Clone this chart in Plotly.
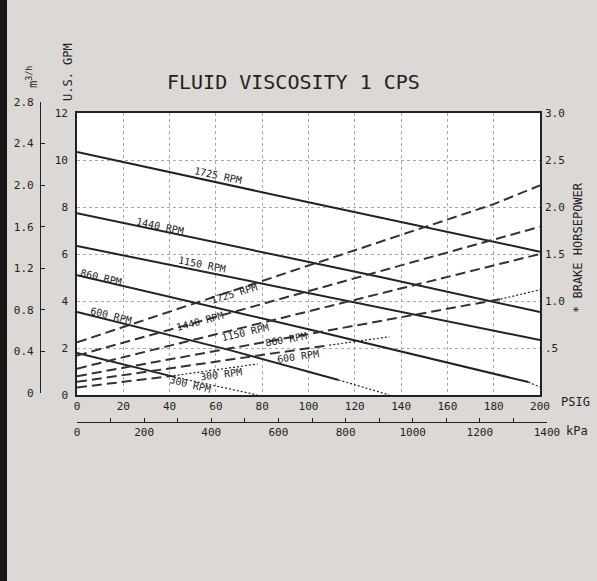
import plotly.graph_objs as go

# pressure (PSIG) / capacity (US GPM)
psig_1725 = [0, 100, 200]
gpm_1725 = [10.34, 8.2, 6.1]
psig_1440 = [0, 131, 200]
gpm_1440 = [7.74, 5.02, 3.53]
psig_1150 = [0, 131, 200]
gpm_1150 = [6.34, 3.74, 2.34]
psig_860 = [0, 100, 195]
gpm_860 = [5.1, 2.8, 0.55]
psig_860_ext = [195, 200]
gpm_860_ext = [0.55, 0.34]
psig_600 = [0, 66, 113]
gpm_600 = [3.53, 1.91, 0.64]
psig_600_ext = [113, 135]
gpm_600_ext = [0.64, 0.0]
psig_300 = [0, 42]
gpm_300 = [1.79, 0.77]
psig_300_ext = [42, 78]
gpm_300_ext = [0.77, 0.0]

# brake horsepower curves
bhp_psig_1725 = [0, 180, 200]
bhp_1725 = [0.56, 2.03, 2.23]
bhp_psig_1440 = [0, 200]
bhp_1440 = [0.42, 1.79]
bhp_psig_1150 = [0, 200]
bhp_1150 = [0.28, 1.5]
bhp_psig_860 = [0, 183]
bhp_860 = [0.2, 1.02]
bhp_psig_860_ext = [183, 200]
bhp_860_ext = [1.02, 1.12]
bhp_psig_600 = [0, 109]
bhp_600 = [0.14, 0.53]
bhp_psig_600_ext = [109, 135]
bhp_600_ext = [0.53, 0.62]
bhp_psig_300 = [0, 40]
bhp_300 = [0.08, 0.2]
bhp_psig_300_ext = [40, 78]
bhp_300_ext = [0.2, 0.33]

psig_ticks = [0, 20, 40, 60, 80, 100, 120, 140, 160, 180, 200]
gpm_ticks = [0, 2, 4, 6, 8, 10, 12]
bhp_ticks = [0.5, 1.0, 1.5, 2.0, 2.5, 3.0]
bhp_labels = ['.5', '1.0', '1.5', '2.0', '2.5', '3.0']
m3h_ticks = [0, 0.4, 0.8, 1.2, 1.6, 2.0, 2.4, 2.8]
m3h_labels = ['0', '0.4', '0.8', '1.2', '1.6', '2.0', '2.4', '2.8']
kpa_ticks = [0, 200, 400, 600, 800, 1000, 1200, 1400]
kpa_minor = [100, 300, 500, 700, 900, 1100, 1300]

INK = '#222222'
FONT = 'DejaVu Sans Mono'

W, H = 597, 581
ML, MR, MT, MB = 10, 50, 95, 10


def fx(px):
    return (px - ML) / (W - ML - MR)


def fy(py):
    return (H - MB - py) / (H - MT - MB)


def solid(x, y):
    return go.Scatter(x=x, y=y, mode='lines', showlegend=False, hoverinfo='skip',
                      line=dict(color=INK, width=2))


def dotted(x, y, yaxis='y'):
    return go.Scatter(x=x, y=y, mode='lines', showlegend=False, hoverinfo='skip',
                      yaxis=yaxis, line=dict(color=INK, width=1.2, dash='2px,2px'))


def dashed(x, y):
    return go.Scatter(x=x, y=y, mode='lines', showlegend=False, hoverinfo='skip',
                      yaxis='y2', line=dict(color='#333333', width=2, dash='10px,5px'))


data = [
    solid(psig_1725, gpm_1725),
    solid(psig_1440, gpm_1440),
    solid(psig_1150, gpm_1150),
    solid(psig_860, gpm_860),
    dotted(psig_860_ext, gpm_860_ext),
    solid(psig_600, gpm_600),
    dotted(psig_600_ext, gpm_600_ext),
    solid(psig_300, gpm_300),
    dotted(psig_300_ext, gpm_300_ext),
    dashed(bhp_psig_1725, bhp_1725),
    dashed(bhp_psig_1440, bhp_1440),
    dashed(bhp_psig_1150, bhp_1150),
    dashed(bhp_psig_860, bhp_860),
    dotted(bhp_psig_860_ext, bhp_860_ext, 'y2'),
    dashed(bhp_psig_600, bhp_600),
    dotted(bhp_psig_600_ext, bhp_600_ext, 'y2'),
    dashed(bhp_psig_300, bhp_300),
    dotted(bhp_psig_300_ext, bhp_300_ext, 'y2'),
    # carrier for the kPa / m3/h scales
    go.Scatter(x=[None], y=[None], xaxis='x2', yaxis='y3', showlegend=False,
               hoverinfo='skip'),
]

# curve labels: (text, psig, gpm, angle)
curve_labels = [
    ('1725 RPM', 61, 9.36, 12),
    ('1440 RPM', 36, 7.19, 12),
    ('1150 RPM', 54, 5.57, 11),
    ('860 RPM', 10.5, 5.02, 13),
    ('600 RPM', 14.5, 3.40, 14),
    ('300 RPM', 49, 0.43, 14),
    ('1725 RPM', 68, 4.30, -17),
    ('1440 RPM', 53, 3.11, -15),
    ('1150 RPM', 72.6, 2.68, -13),
    ('860 RPM', 90.3, 2.38, -10),
    ('600 RPM', 95.5, 1.62, -8),
    ('300 RPM', 62, 0.89, -7),
]

annotations = []
for text, xv, yv, ang in curve_labels:
    annotations.append(dict(text=text, x=xv, y=yv, xref='x', yref='y', showarrow=False,
                            xanchor='center', yanchor='middle', textangle=ang,
                            font=dict(family=FONT, size=10, color=INK)))


def paper_text(text, px, py, size, angle=0):
    return dict(text=text, x=fx(px), y=fy(py), xref='paper', yref='paper',
                showarrow=False, xanchor='center', yanchor='middle', textangle=angle,
                font=dict(family=FONT, size=size, color=INK))


annotations += [
    paper_text('FLUID VISCOSITY 1 CPS', 293, 82, 20),
    paper_text('U.S. GPM', 68, 72, 12, -90),
    paper_text('m<sup>3/h</sup>', 32, 77, 12, -90),
    paper_text('* BRAKE HORSEPOWER', 578, 248, 12, -90),
    paper_text('PSIG', 575, 402, 12),
    paper_text('kPa', 577, 431, 12),
]

tickfont = dict(family=FONT, size=11, color=INK)

layout = go.Layout(
    width=W, height=H, autosize=False,
    margin=dict(l=ML, r=MR, t=MT, b=MB, pad=0, autoexpand=False),
    paper_bgcolor='#dcd8d6',
    plot_bgcolor='rgba(0,0,0,0)',
    showlegend=False,
    font=dict(family=FONT, color=INK),
    xaxis=dict(domain=[fx(77), fx(540)], range=[0, 200], tickvals=psig_ticks,
               showgrid=True, gridcolor='#a8a8a8', griddash='dot', gridwidth=1,
               showline=True, mirror=True, linecolor=INK, linewidth=1.6,
               ticks='', zeroline=False, tickfont=tickfont, fixedrange=True),
    yaxis=dict(domain=[fy(395), fy(113)], range=[0, 12], tickvals=gpm_ticks,
               showgrid=True, gridcolor='#a8a8a8', griddash='dot', gridwidth=1,
               showline=True, mirror=True, linecolor=INK, linewidth=1.6,
               ticks='', zeroline=False, tickfont=tickfont, ticklabelstandoff=5,
               fixedrange=True),
    yaxis2=dict(overlaying='y', side='right', anchor='x', range=[0, 3],
                tickvals=bhp_ticks, ticktext=bhp_labels, showgrid=False,
                showline=False, zeroline=False, ticks='', tickfont=tickfont,
                ticklabelstandoff=4, fixedrange=True),
    xaxis2=dict(domain=[fx(77), fx(547)], anchor='free', position=fy(422),
                range=[0, 1400], tickvals=kpa_ticks,
                minor=dict(tickvals=kpa_minor, ticks='inside', ticklen=4,
                           tickcolor=INK, showgrid=False),
                showgrid=False, zeroline=False, showline=True, linecolor=INK,
                linewidth=1.3, ticks='inside', ticklen=4, tickcolor=INK,
                tickfont=tickfont, fixedrange=True),
    yaxis3=dict(domain=[fy(393), fy(102)], anchor='free', position=fx(40),
                range=[0, 2.8], tickvals=m3h_ticks, ticktext=m3h_labels,
                showgrid=False, zeroline=False, showline=True, linecolor=INK,
                linewidth=1.3, ticks='inside', ticklen=4, tickcolor=INK,
                tickfont=tickfont, ticklabelstandoff=4, fixedrange=True),
    shapes=[
        dict(type='rect', xref='x domain', yref='y domain', x0=0, x1=1, y0=0, y1=1,
             fillcolor='white', line=dict(width=0), layer='below'),
        dict(type='rect', xref='paper', yref='paper', x0=fx(0), x1=fx(7),
             y0=fy(H), y1=fy(0), fillcolor='#1c1517', line=dict(width=0), layer='below'),
    ],
    annotations=annotations,
)

fig = go.Figure(data=data, layout=layout)
fig.write_html("out.html",
               config={'displayModeBar': False, 'responsive': False},
               post_script="document.body.style.margin='0';"
                           "document.body.style.overflow='hidden';")
